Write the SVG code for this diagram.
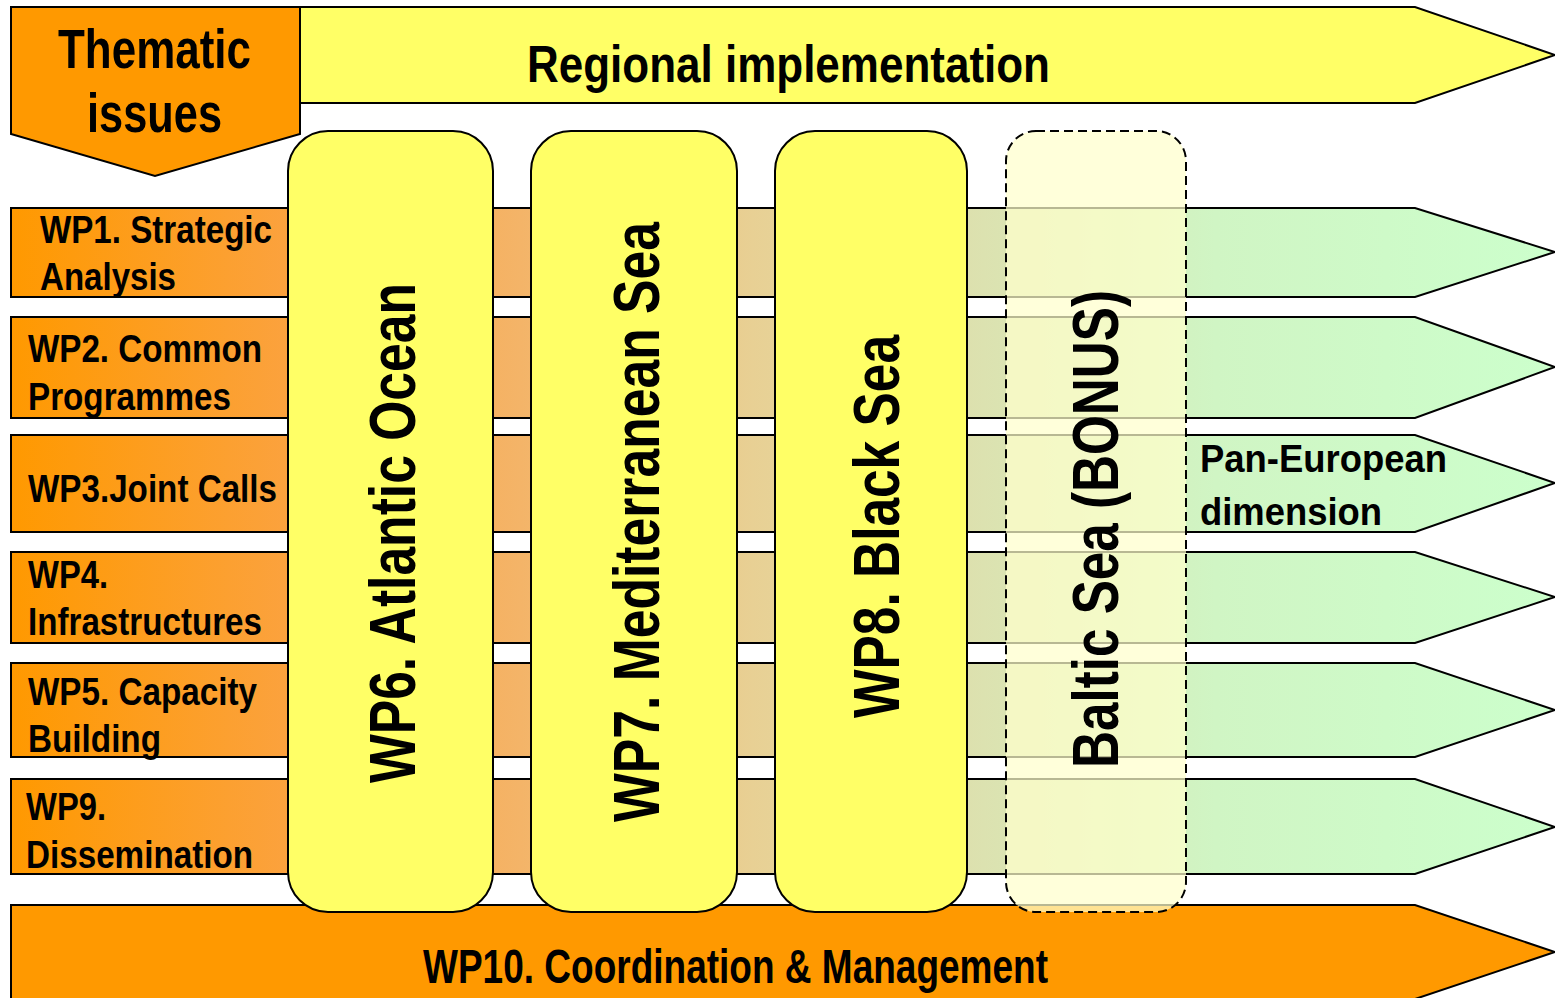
<svg xmlns="http://www.w3.org/2000/svg" width="1555" height="998" viewBox="0 0 1555 998">
<defs>
<linearGradient id="bandGrad" gradientUnits="userSpaceOnUse" x1="11" y1="0" x2="1555" y2="0">
<stop offset="0" stop-color="#FF9900"/>
<stop offset="0.18" stop-color="#FBA23E"/>
<stop offset="0.33" stop-color="#F4B468"/>
<stop offset="0.48" stop-color="#E8D094"/>
<stop offset="0.63" stop-color="#DCE2B0"/>
<stop offset="0.78" stop-color="#D0F5C4"/>
<stop offset="1" stop-color="#CCFFCC"/>
</linearGradient>
<style>
.band{fill:url(#bandGrad);stroke:#000;stroke-width:2}
.pillar{fill:#FFFF66;stroke:#000;stroke-width:2}
.baltic{fill:#FFFFCC;fill-opacity:0.72;stroke:#000;stroke-width:2;stroke-dasharray:9 5}
.t{font-family:"Liberation Sans",Arial,sans-serif;font-weight:bold;fill:#000}
.wp{font-size:38px}
.pt{font-size:64px}
</style>
</defs>
<rect width="1555" height="998" fill="#fff"/>

<g id="regional-implementation">
<polygon points="300,7 1415,7 1555,55 1415,103 300,103" fill="#FFFF66" stroke="#000" stroke-width="2"/>
<text class="t" x="527" y="82" font-size="52" textLength="523" lengthAdjust="spacingAndGlyphs">Regional implementation</text>
</g>

<g id="thematic-issues">
<polygon points="11,7 300,7 300,134 155,176 11,134" fill="#FF9900" stroke="#000" stroke-width="2"/>
<text class="t" x="58" y="68" font-size="55" textLength="193" lengthAdjust="spacingAndGlyphs">Thematic</text>
<text class="t" x="87" y="132" font-size="55" textLength="135" lengthAdjust="spacingAndGlyphs">issues</text>
</g>

<g id="bands">
<g id="wp1">
<polygon class="band" points="11,208 1415,208 1555,252 1415,297 11,297"/>
</g>
<g id="wp2">
<polygon class="band" points="11,317 1415,317 1555,367 1415,418 11,418"/>
</g>
<g id="wp3">
<polygon class="band" points="11,435 1415,435 1555,483 1415,532 11,532"/>
</g>
<g id="wp4">
<polygon class="band" points="11,552 1415,552 1555,597 1415,643 11,643"/>
</g>
<g id="wp5">
<polygon class="band" points="11,663 1415,663 1555,710 1415,757 11,757"/>
</g>
<g id="wp9">
<polygon class="band" points="11,779 1415,779 1555,827 1415,874 11,874"/>
</g>
</g>

<g id="wp10">
<polygon points="11,905 1415,905 1555,952 1415,999 11,999" fill="#FF9900" stroke="#000" stroke-width="2"/>
<text class="t" x="423" y="983" font-size="48" textLength="625" lengthAdjust="spacingAndGlyphs">WP10. Coordination &amp; Management</text>
</g>

<g id="band-labels">
<text class="t wp" x="40" y="243" textLength="232" lengthAdjust="spacingAndGlyphs">WP1. Strategic</text>
<text class="t wp" x="40" y="290" textLength="136" lengthAdjust="spacingAndGlyphs">Analysis</text>
<text class="t wp" x="28" y="362" textLength="234" lengthAdjust="spacingAndGlyphs">WP2. Common</text>
<text class="t wp" x="28" y="410" textLength="203" lengthAdjust="spacingAndGlyphs">Programmes</text>
<text class="t wp" x="28" y="502" textLength="249" lengthAdjust="spacingAndGlyphs">WP3.Joint Calls</text>
<text class="t wp" x="28" y="588" textLength="80" lengthAdjust="spacingAndGlyphs">WP4.</text>
<text class="t wp" x="28" y="635" textLength="234" lengthAdjust="spacingAndGlyphs">Infrastructures</text>
<text class="t wp" x="28" y="705" textLength="229" lengthAdjust="spacingAndGlyphs">WP5. Capacity</text>
<text class="t wp" x="28" y="752" textLength="133" lengthAdjust="spacingAndGlyphs">Building</text>
<text class="t wp" x="26" y="820" textLength="80" lengthAdjust="spacingAndGlyphs">WP9.</text>
<text class="t wp" x="26" y="868" textLength="227" lengthAdjust="spacingAndGlyphs">Dissemination</text>
</g>

<g id="wp6">
<rect class="pillar" x="288" y="131" width="205" height="781" rx="40" ry="40"/>
<text class="t pt" transform="translate(415,783) rotate(-90)" x="0" y="0" textLength="500" lengthAdjust="spacingAndGlyphs">WP6. Atlantic Ocean</text>
</g>
<g id="wp7">
<rect class="pillar" x="531" y="131" width="206" height="781" rx="40" ry="40"/>
<text class="t pt" transform="translate(659,822) rotate(-90)" x="0" y="0" textLength="600" lengthAdjust="spacingAndGlyphs">WP7. Mediterranean Sea</text>
</g>
<g id="wp8">
<rect class="pillar" x="775" y="131" width="192" height="781" rx="40" ry="40"/>
<text class="t pt" transform="translate(899,718) rotate(-90)" x="0" y="0" textLength="383" lengthAdjust="spacingAndGlyphs">WP8. Black Sea</text>
</g>
<g id="baltic">
<rect class="baltic" x="1006" y="131" width="180" height="781" rx="30" ry="30"/>
<text class="t pt" transform="translate(1118,768) rotate(-90)" x="0" y="0" textLength="478" lengthAdjust="spacingAndGlyphs">Baltic Sea (BONUS)</text>
</g>

<g id="pan-european">
<text class="t wp" x="1200" y="472" textLength="247" lengthAdjust="spacingAndGlyphs">Pan-European</text>
<text class="t wp" x="1200" y="525" textLength="182" lengthAdjust="spacingAndGlyphs">dimension</text>
</g>
</svg>
